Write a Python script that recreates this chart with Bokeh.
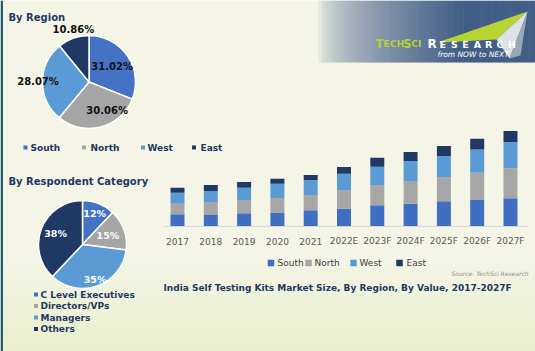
import math
from bokeh.plotting import figure
from bokeh.models import Range1d, ColumnDataSource
from bokeh.core.properties import value
from bokeh.transform import stack
from bokeh.embed import file_html
from bokeh.resources import INLINE

# ---------------- data ----------------
region_names = ["South", "North", "West", "East"]
region_share = [31.02, 30.06, 28.07, 10.86]

resp_names = ["C Level Executives", "Directors/VPs", "Managers", "Others"]
resp_share = [12, 15, 35, 38]

years = ["2017", "2018", "2019", "2020", "2021", "2022E", "2023F",
         "2024F", "2025F", "2026F", "2027F"]
south = [11.7, 11.0, 12.7, 13.0, 15.7, 17.3, 20.7, 22.3, 24.7, 26.0, 27.7]
north = [10.6, 13.0, 13.3, 15.0, 15.3, 18.7, 20.3, 22.7, 24.3, 27.3, 30.0]
west = [11.0, 11.0, 12.3, 14.3, 15.0, 16.3, 18.3, 20.0, 21.0, 23.3, 26.3]
east = [5.0, 6.0, 5.7, 5.0, 5.0, 6.7, 9.0, 9.0, 10.0, 10.7, 11.0]

# ---------------- style ----------------
W, H = 535, 351
FONT = value("DejaVu Sans")
NAVY = "#1f3864"
C_SOUTH = "#4472c4"
C_NORTH = "#a5a5a5"
C_WEST = "#5b9bd5"
C_EAST = "#203864"
BG = (244, 245, 230)
region_colors = [C_SOUTH, C_NORTH, C_WEST, C_EAST]
resp_colors = [C_SOUTH, C_NORTH, C_WEST, C_EAST]


def Y(pix):
    return H - pix


def blend(c1, c2, t):
    return "#%02x%02x%02x" % tuple(int(round(a + (b - a) * t)) for a, b in zip(c1, c2))


p = figure(width=W, height=H, x_range=Range1d(0, W), y_range=Range1d(0, H),
           output_backend="svg", toolbar_location=None, min_border=0)
p.axis.visible = False
p.grid.visible = False
p.outline_line_color = None
p.background_fill_color = "#f4f5e6"
p.border_fill_color = "#f4f5e6"

# subtle greenish bottom tint
nb = 14
for i in range(nb):
    p.quad(left=0, right=W, bottom=Y(262 + (i + 1) * 89 / nb) - 0.5,
           top=Y(262 + i * 89 / nb),
           color=blend(BG, (233, 239, 205), (i + 1) / nb), line_color=None)

# left border
p.quad(left=0, right=2.5, bottom=0, top=H, color="#245b6e", line_color=None)

# ---------------- logo ----------------
n = 60
x0, x1 = 318, 535
for i in range(n):
    t = (i + 0.5) / n
    a = min(1.0, t ** 0.55 * 1.25)
    col = blend(BG, (66, 94, 135), a)
    p.quad(left=x0 + (x1 - x0) * i / n, right=x0 + (x1 - x0) * (i + 1) / n + 0.6,
           bottom=Y(62), top=H, color=col, line_color=None)
p.patch(x=[437, 527, 496], y=[Y(42), Y(11), Y(39)], color="#b7d433", line_color=None)
p.patch(x=[496, 527, 509], y=[Y(39), Y(11), Y(58)], color="#dde2e8", line_color=None)
p.patch(x=[509, 527, 520], y=[Y(58), Y(11), Y(55)], color="#9aa8b8", line_color=None)

logo1 = list("TECHSCI")
logo1_big = [True, False, False, False, True, False, False]
lx = 375
for ch, big in zip(logo1, logo1_big):
    p.text(x=[lx], y=[Y(43.5)], text=[ch], text_font=FONT,
           text_font_size="11.5px" if big else "9px", text_font_style="bold",
           text_color="#b5d334", text_baseline="middle", text_align="left")
    lx += 8.0 if big else 6.6
logo2 = list("RESEARCH")
lx = 427
for j, ch in enumerate(logo2):
    big = j == 0
    p.text(x=[lx], y=[Y(43.5)], text=[ch], text_font=FONT,
           text_font_size="12px" if big else "9.5px",
           text_font_style="bold", text_color="#ffffff", text_baseline="middle",
           text_align="left")
    lx += 12.0 if big else 11.4
p.text(x=[437], y=[Y(53.5)], text=["from NOW to NEXT"], text_font=FONT,
       text_font_size="7.5px", text_font_style="italic", text_color="#ffffff",
       text_baseline="middle", text_align="left")


# ---------------- pies ----------------
def pie(cx, cy, r, shares, colors, label_r, nudge, label_color, fmt, fsize):
    total = sum(shares)
    cum = 0.0
    lx, ly, lt = [], [], []
    for s, c, lr, nd in zip(shares, colors, label_r, nudge):
        c0 = cum / total
        cum += s
        c1 = cum / total
        p.wedge(x=cx, y=Y(cy), radius=r,
                start_angle=math.pi / 2 - 2 * math.pi * c1,
                end_angle=math.pi / 2 - 2 * math.pi * c0,
                direction="anticlock", fill_color=c, line_color="white",
                line_width=1.5)
        mid = (c0 + c1) / 2 * 2 * math.pi + math.radians(nd)
        lx.append(cx + lr * math.sin(mid))
        ly.append(Y(cy) + lr * math.cos(mid))
        lt.append(fmt(s))
    p.text(x=lx, y=ly, text=lt, text_font=FONT, text_font_style="bold",
           text_font_size=fsize, text_color=label_color, text_align="center",
           text_baseline="middle")


pie(88.5, 81.5, 46.5, region_share, region_colors, [28, 34, 51, 55],
    [0, -18, 0, 3], "#111111", lambda s: f"{s:.2f}%", "10px")
pie(82, 244, 44, resp_share, resp_colors, [33, 27, 37, 29],
    [0, 0, 0, 0], "#ffffff", lambda s: f"{s:.0f}%", "9.5px")

# titles
p.text(x=[8], y=[Y(16.5)], text=["By Region"], text_font=FONT, text_font_style="bold",
       text_font_size="10px", text_color=NAVY, text_baseline="middle")
p.text(x=[8], y=[Y(180.5)], text=["By Respondent Category"], text_font=FONT,
       text_font_style="bold", text_font_size="10px", text_color=NAVY,
       text_baseline="middle")

# legend 1 (horizontal)
leg1_mx = [25, 83.5, 142.5, 193.5]
leg1_tx = [30, 90, 147, 200]
p.scatter(x=leg1_mx, y=[Y(147)] * 4, marker="square", size=4,
          color=region_colors, line_color=None)
p.text(x=leg1_tx, y=[Y(147)] * 4, text=region_names, text_font=FONT,
       text_font_style="bold", text_font_size="9px", text_color=NAVY,
       text_baseline="middle")

# legend 2 (vertical)
leg2_y = [Y(294), Y(305.5), Y(317), Y(328.5)]
p.scatter(x=[35.5] * 4, y=leg2_y, marker="square", size=4, color=resp_colors,
          line_color=None)
p.text(x=[40] * 4, y=leg2_y, text=resp_names, text_font=FONT,
       text_font_style="bold", text_font_size="9px", text_color=NAVY,
       text_baseline="middle")

# ---------------- stacked bars ----------------
base = 225.5
src = ColumnDataSource(dict(idx=list(range(len(years))), year=years, South=south,
                            North=north, West=west, East=east))
bars = p.subplot(x_source=Range1d(-0.5, len(years) - 0.5),
                 y_source=Range1d(0, 100),
                 x_target=Range1d(160.35, 526.65),
                 y_target=Range1d(Y(base), Y(base) + 100))

p.line(x=[163, 527], y=[Y(base + 0.5)] * 2, line_color="#d9d9d9", line_width=1)

series = ["South", "North", "West", "East"]
bar_colors = ["#3f6ec3", "#a6a6a6", "#5b9bd5", "#203864"]
for i, (s, c) in enumerate(zip(series, bar_colors)):
    bottom = 0 if i == 0 else stack(*series[:i])
    bars.vbar(x="idx", width=0.42, bottom=bottom, top=stack(*series[:i + 1]),
              source=src, fill_color=c, line_color=None)

bars.text(x="idx", y=-15, text="year", source=src, text_font=FONT,
          text_font_size="9px", text_color="#595959", text_align="center",
          text_baseline="middle")

# bottom legend
leg3_mx = [270.5, 308, 353, 399]
leg3_tx = [277, 314, 359, 406]
p.scatter(x=leg3_mx, y=[Y(262.5)] * 4, marker="square", size=6.5,
          color=bar_colors, line_color=None)
p.text(x=leg3_tx, y=[Y(262.5)] * 4, text=series, text_font=FONT,
       text_font_size="9px", text_color="#404040", text_baseline="middle")

p.text(x=[528], y=[Y(272.5)], text=["Source: TechSci Research"], text_font=FONT,
       text_font_size="6px", text_font_style="italic", text_color="#8c8c8c",
       text_align="right", text_baseline="middle")

p.text(x=[163], y=[Y(287)],
       text=["India Self Testing Kits Market Size, By Region, By Value, 2017-2027F"],
       text_font=FONT, text_font_style="bold", text_font_size="9px",
       text_color=NAVY, text_baseline="middle")

open("out.html", "w").write(file_html(p, INLINE))
